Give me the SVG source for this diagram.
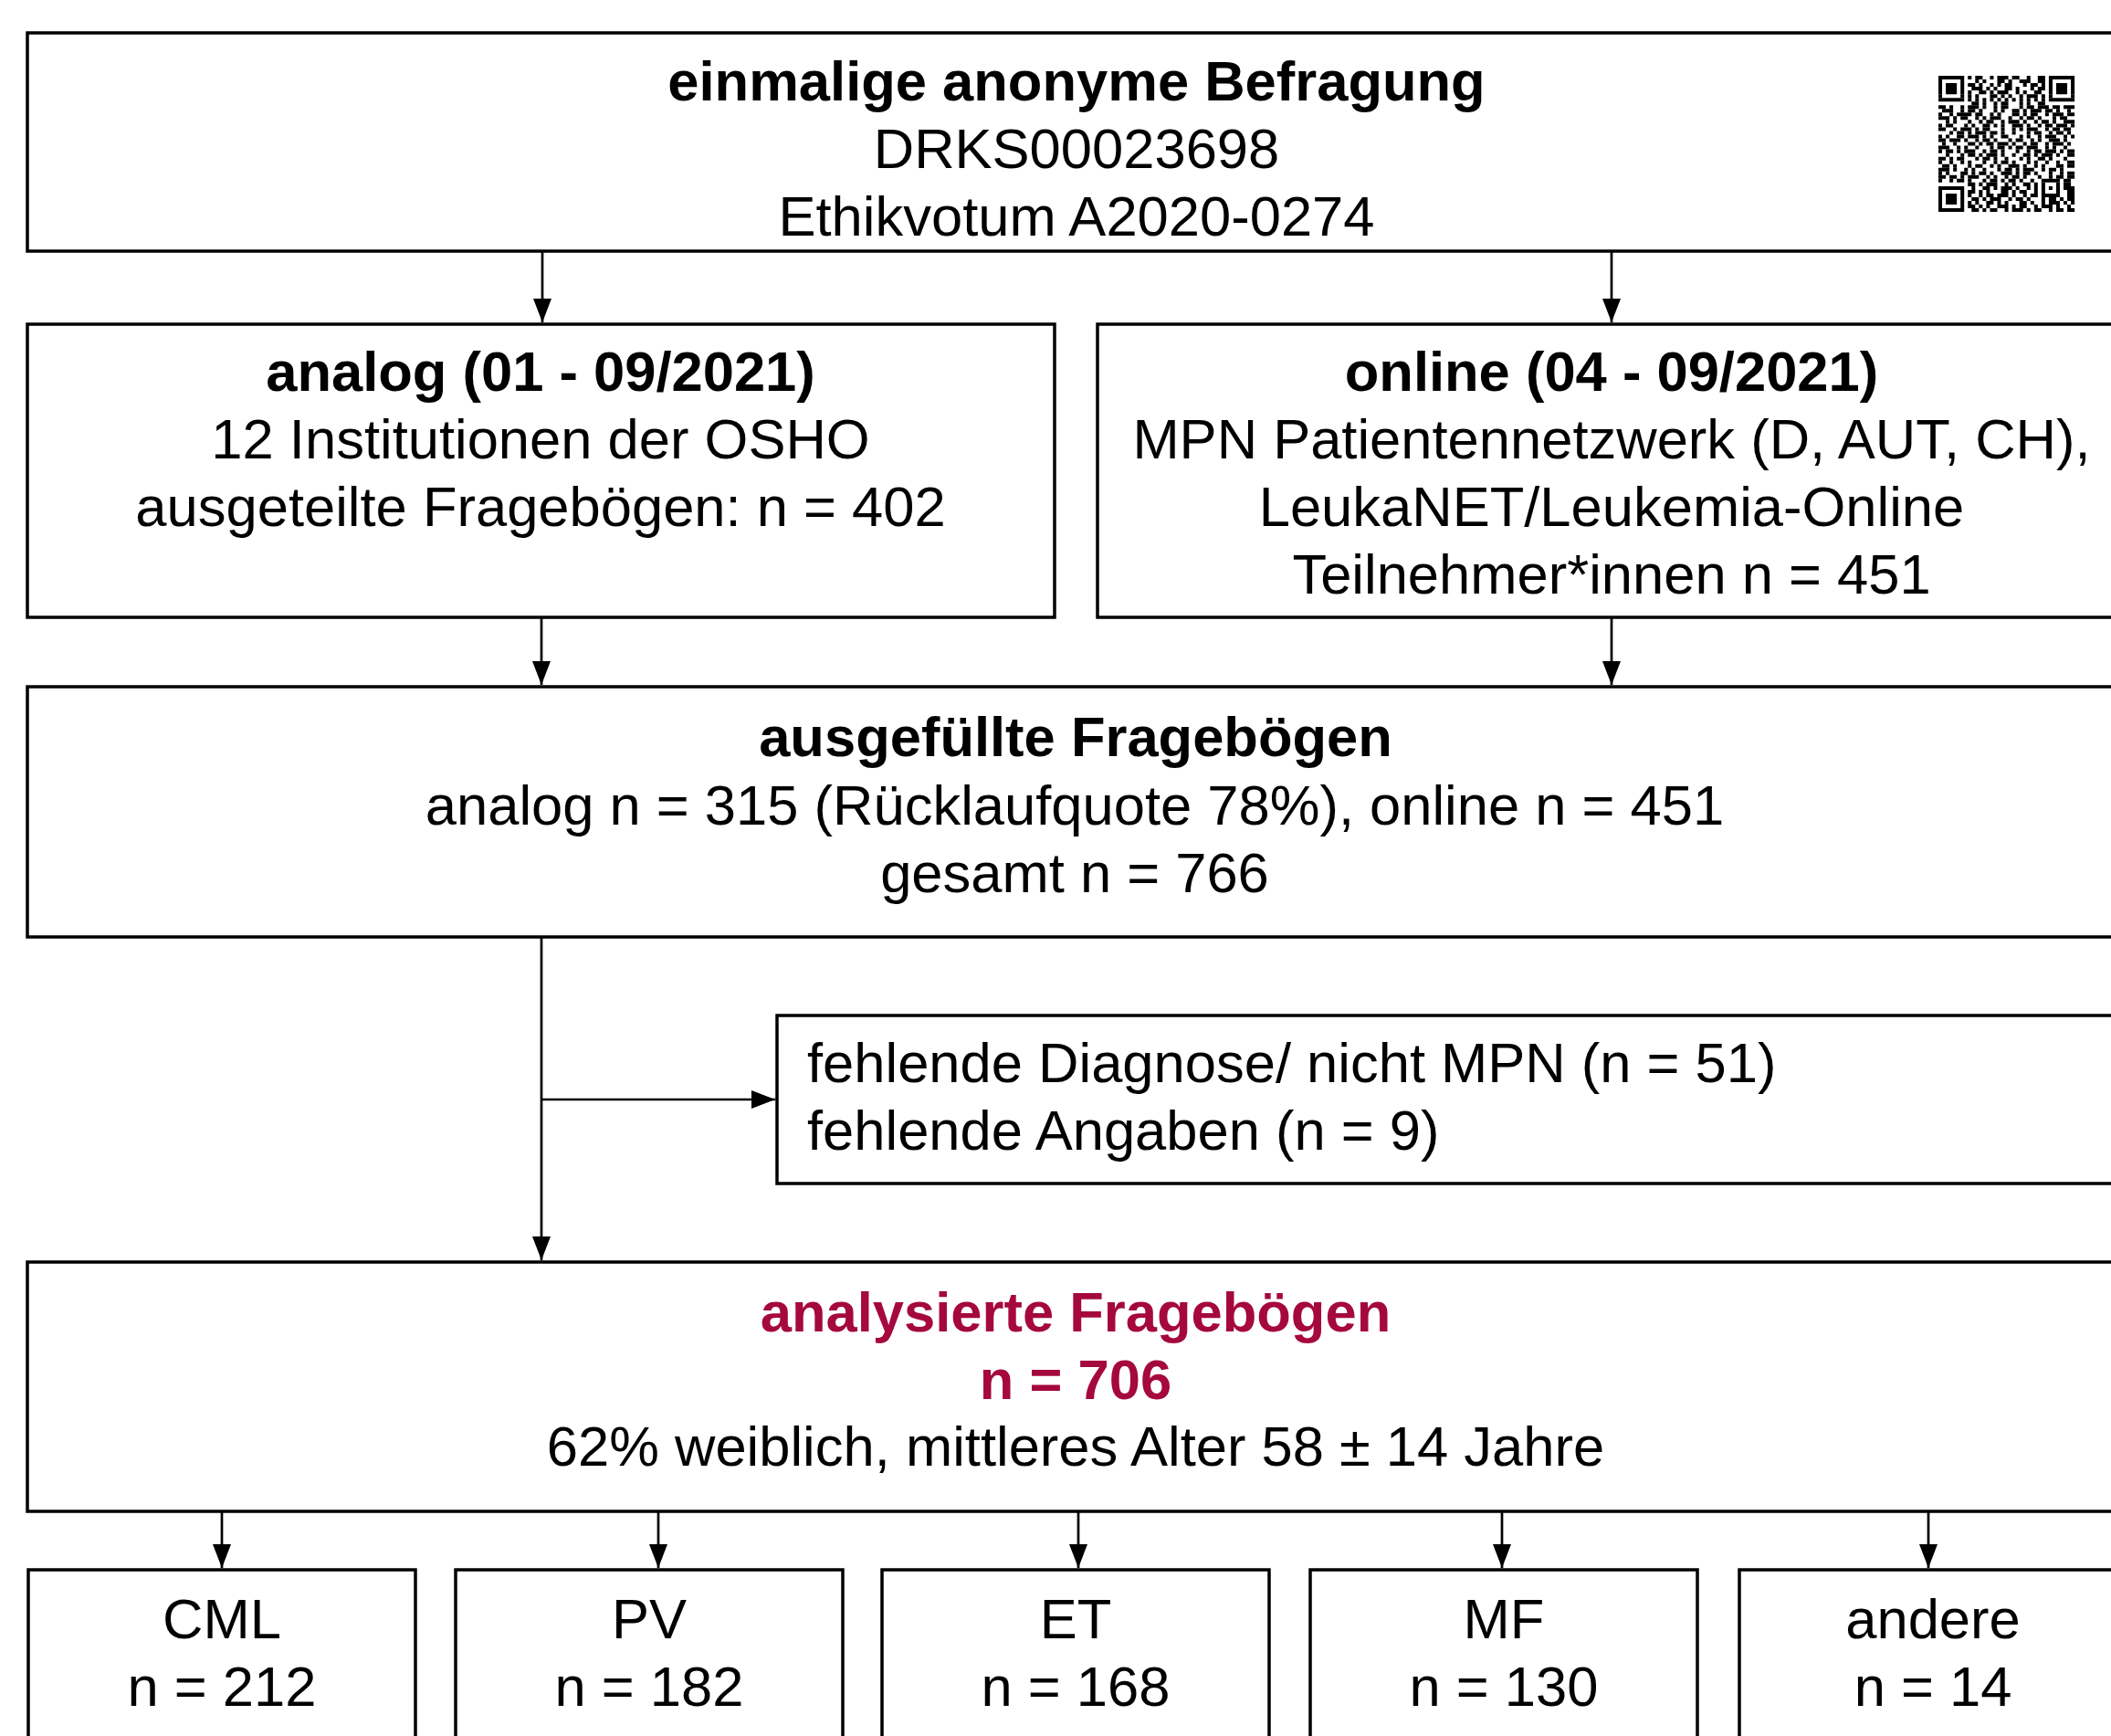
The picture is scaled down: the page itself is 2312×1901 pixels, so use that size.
<svg xmlns="http://www.w3.org/2000/svg" width="2312" height="1901" viewBox="0 0 2312 1901">
<style>
.box{fill:#fff;stroke:#000;stroke-width:3.5}
.t{font-family:"Liberation Sans",Arial,sans-serif;font-size:61.5px;fill:#000;text-anchor:middle}
.s{text-anchor:start}
.b{font-weight:bold}
.red{fill:#a5083f}
.con{fill:none;stroke:#000;stroke-width:2.7}
.qr path{stroke:#000;stroke-width:1;fill:none}
</style>
<defs>
<marker id="ah" viewBox="0 0 26 20" refX="26" refY="10" markerWidth="26" markerHeight="20" orient="auto" markerUnits="userSpaceOnUse">
<path d="M0,0 L26,10 L0,20 z" fill="#000"/>
</marker>
</defs>
<rect width="2312" height="1901" fill="#fff"/>

<g id="connectors">
<path class="con" d="M594,275 V353" marker-end="url(#ah)"/>
<path class="con" d="M1765,275 V353" marker-end="url(#ah)"/>
<path class="con" d="M593,676 V750" marker-end="url(#ah)"/>
<path class="con" d="M1765,668 V750" marker-end="url(#ah)"/>
<path class="con" d="M593,1026 V1380" marker-end="url(#ah)"/>
<path class="con" d="M593,1204 H849" marker-end="url(#ah)"/>
<path class="con" d="M243,1655 V1717" marker-end="url(#ah)"/>
<path class="con" d="M721,1655 V1717" marker-end="url(#ah)"/>
<path class="con" d="M1181,1655 V1717" marker-end="url(#ah)"/>
<path class="con" d="M1645,1655 V1717" marker-end="url(#ah)"/>
<path class="con" d="M2112,1655 V1717" marker-end="url(#ah)"/>
</g>

<g id="node-befragung">
<rect class="box" x="30" y="36" width="2298" height="239"/>
<text class="t b" x="1179" y="110">einmalige anonyme Befragung</text>
<text class="t" x="1179" y="184">DRKS00023698</text>
<text class="t" x="1179" y="258">Ethikvotum A2020-0274</text>
<g class="qr" transform="translate(2123,83) scale(4.03)">
<path d="M0 0.5h37" stroke-dasharray="7 1 1 1 2 2 1 1 3 1 2 2 1 2 2 1 7"/>
<path d="M0 1.5h37" stroke-dasharray="1 5 1 3 1 1 1 3 2 1 1 2 3 2 2 1 1 5 1"/>
<path d="M0 2.5h37" stroke-dasharray="1 1 3 1 1 1 2 1 1 2 1 1 1 1 2 3 1 1 2 1 1 1 1 1 3 1 1"/>
<path d="M0 3.5h37" stroke-dasharray="1 1 3 1 1 2 3 1 1 1 1 2 2 1 1 3 1 1 2 1 1 1 3 1 1"/>
<path d="M0 4.5h37" stroke-dasharray="1 1 3 1 1 1 1 2 2 1 1 1 3 2 1 1 1 2 2 2 1 1 3 1 1"/>
<path d="M0 5.5h37" stroke-dasharray="1 5 1 1 1 1 1 3 2 1 1 1 1 2 1 1 3 1 1 1 1 5 1"/>
<path d="M0 6.5h37" stroke-dasharray="7 1 1 1 1 1 1 1 1 1 1 1 1 1 1 1 1 1 1 1 1 1 1 1 7"/>
<path d="M0 7.5h37" stroke-dasharray="0 9 2 1 1 2 1 1 2 3 1 1 1 2 2 8"/>
<path d="M0 8.5h37" stroke-dasharray="2 1 1 2 1 1 3 1 1 2 1 1 2 3 1 1 2 1 3 1 2 1 3"/>
<path d="M0 9.5h37" stroke-dasharray="0 1 3 2 1 1 2 1 1 3 1 1 1 2 2 1 1 1 3 1 2 1 1 2 1 1"/>
<path d="M0 10.5h37" stroke-dasharray="1 2 1 1 4 1 2 2 1 1 1 3 2 1 1 1 2 2 1 1 3 1 2"/>
<path d="M0 11.5h37" stroke-dasharray="3 1 1 1 2 2 1 1 1 1 3 2 1 2 1 1 2 1 1 3 1 1 2 2"/>
<path d="M0 12.5h37" stroke-dasharray="0 2 1 1 1 3 1 2 1 1 2 2 1 1 3 1 1 2 1 1 2 1 1 2 3"/>
<path d="M0 13.5h37" stroke-dasharray="1 1 2 3 1 1 1 2 2 1 1 1 1 2 3 1 1 2 1 1 2 1 3 1 1"/>
<path d="M0 14.5h37" stroke-dasharray="2 2 1 1 3 1 1 1 2 3 1 2 1 1 1 1 3 2 1 1 2 1 2 1"/>
<path d="M0 15.5h37" stroke-dasharray="0 3 1 1 2 1 1 1 3 1 2 1 1 2 1 3 1 1 2 2 1 1 2 1 1 1"/>
<path d="M0 16.5h37" stroke-dasharray="1 1 1 2 2 1 3 1 1 1 1 2 2 3 1 1 1 2 1 1 3 2 1 1 1"/>
<path d="M0 17.5h37" stroke-dasharray="2 1 3 1 1 2 1 1 2 1 1 3 1 1 2 2 1 1 1 2 3 1 1 2"/>
<path d="M0 18.5h37" stroke-dasharray="0 1 1 2 1 3 2 1 1 1 2 1 3 1 1 2 1 1 2 2 1 1 3 1 1 1"/>
<path d="M0 19.5h37" stroke-dasharray="3 2 1 1 1 2 1 3 1 1 2 1 1 1 2 1 3 2 1 1 1 2 1 2"/>
<path d="M0 20.5h37" stroke-dasharray="1 1 2 1 1 1 3 2 1 1 2 1 1 3 1 2 1 1 2 1 3 1 1 1 2"/>
<path d="M0 21.5h37" stroke-dasharray="0 2 1 3 1 1 2 1 1 1 3 1 1 2 1 2 2 1 1 1 3 1 1 2 2"/>
<path d="M0 22.5h37" stroke-dasharray="2 1 1 1 2 3 1 1 2 1 1 2 1 3 1 1 1 2 2 1 1 3 1 2"/>
<path d="M0 23.5h37" stroke-dasharray="1 2 1 2 1 1 1 3 1 2 1 1 2 1 1 3 1 1 1 2 1 2 1 2 2"/>
<path d="M0 24.5h37" stroke-dasharray="0 1 2 1 1 3 1 1 2 2 1 1 1 2 3 1 1 2 1 1 1 3 2 1 2"/>
<path d="M0 25.5h37" stroke-dasharray="3 1 1 2 1 1 1 2 1 3 1 1 2 1 1 1 3 2 1 1 2 1 1 3"/>
<path d="M0 26.5h37" stroke-dasharray="1 1 1 3 2 1 1 1 2 1 1 2 3 1 1 1 2 1 1 3 1 2 1 1 2"/>
<path d="M0 27.5h37" stroke-dasharray="2 1 2 1 1 1 3 2 1 1 1 2 1 1 2 1 1 3 1 2 1 1 2 1 2"/>
<path d="M0 28.5h37" stroke-dasharray="1 2 1 1 2 1 1 3 1 1 2 1 1 1 2 1 1 2 1 2 5 1 2 1"/>
<path d="M0 29.5h37" stroke-dasharray="0 8 2 1 1 1 3 2 1 1 1 2 2 1 1 1 1 3 1 1 2 1"/>
<path d="M0 30.5h37" stroke-dasharray="7 2 1 2 2 1 1 1 3 1 1 2 1 1 1 1 1 1 1 1 1 1 3"/>
<path d="M0 31.5h37" stroke-dasharray="1 5 1 1 2 1 1 1 1 3 2 1 1 1 2 2 1 1 1 3 1 2 2"/>
<path d="M0 32.5h37" stroke-dasharray="1 1 3 1 1 1 1 2 1 1 2 1 3 1 1 2 1 1 2 1 5 2 2"/>
<path d="M0 33.5h37" stroke-dasharray="1 1 3 1 1 2 2 1 1 1 3 2 1 1 2 1 1 3 1 1 2 1 1 1 2"/>
<path d="M0 34.5h37" stroke-dasharray="1 1 3 1 1 1 1 1 1 2 2 1 1 1 1 3 2 1 1 2 1 1 3 1 1 1 1"/>
<path d="M0 35.5h37" stroke-dasharray="1 5 1 1 2 1 1 1 1 2 3 1 1 1 2 2 1 1 3 1 1 2 1 1"/>
<path d="M0 36.5h37" stroke-dasharray="7 2 2 1 1 1 2 2 1 1 3 1 1 1 2 2 1 1 2 1 2"/>
</g>
</g>

<g id="node-analog">
<rect class="box" x="30" y="355" width="1125" height="321"/>
<text class="t b" x="592" y="428">analog (01 - 09/2021)</text>
<text class="t" x="592" y="502">12 Institutionen der OSHO</text>
<text class="t" x="592" y="576">ausgeteilte Fragebögen: n = 402</text>
</g>

<g id="node-online">
<rect class="box" x="1202" y="355" width="1126" height="321"/>
<text class="t b" x="1765" y="428">online (04 - 09/2021)</text>
<text class="t" x="1765" y="502">MPN Patientennetzwerk (D, AUT, CH),</text>
<text class="t" x="1765" y="576">LeukaNET/Leukemia-Online</text>
<text class="t" x="1765" y="650">Teilnehmer*innen n = 451</text>
</g>

<g id="node-ausgefuellt">
<rect class="box" x="30" y="752" width="2298" height="274"/>
<text class="t b" x="1178" y="828">ausgefüllte Fragebögen</text>
<text class="t" x="1177" y="903">analog n = 315 (Rücklaufquote 78%), online n = 451</text>
<text class="t" x="1177" y="977">gesamt n = 766</text>
</g>

<g id="node-ausschluss">
<rect class="box" x="851" y="1112" width="1477" height="184"/>
<text class="t s" x="884" y="1185">fehlende Diagnose/ nicht MPN (n = 51)</text>
<text class="t s" x="884" y="1259">fehlende Angaben (n = 9)</text>
</g>

<g id="node-analysiert">
<rect class="box" x="30" y="1382" width="2298" height="273"/>
<text class="t b red" x="1178" y="1458">analysierte Fragebögen</text>
<text class="t b red" x="1178" y="1532">n = 706</text>
<text class="t" x="1178" y="1605">62% weiblich, mittleres Alter 58 ± 14 Jahre</text>
</g>

<g id="node-cml">
<rect class="box" x="31" y="1719" width="424" height="300"/>
<text class="t" x="243" y="1794">CML</text>
<text class="t" x="243" y="1868">n = 212</text>
</g>
<g id="node-pv">
<rect class="box" x="499" y="1719" width="424" height="300"/>
<text class="t" x="711" y="1794">PV</text>
<text class="t" x="711" y="1868">n = 182</text>
</g>
<g id="node-et">
<rect class="box" x="966" y="1719" width="424" height="300"/>
<text class="t" x="1178" y="1794">ET</text>
<text class="t" x="1178" y="1868">n = 168</text>
</g>
<g id="node-mf">
<rect class="box" x="1435" y="1719" width="424" height="300"/>
<text class="t" x="1647" y="1794">MF</text>
<text class="t" x="1647" y="1868">n = 130</text>
</g>
<g id="node-andere">
<rect class="box" x="1905" y="1719" width="424" height="300"/>
<text class="t" x="2117" y="1794">andere</text>
<text class="t" x="2117" y="1868">n = 14</text>
</g>
</svg>
